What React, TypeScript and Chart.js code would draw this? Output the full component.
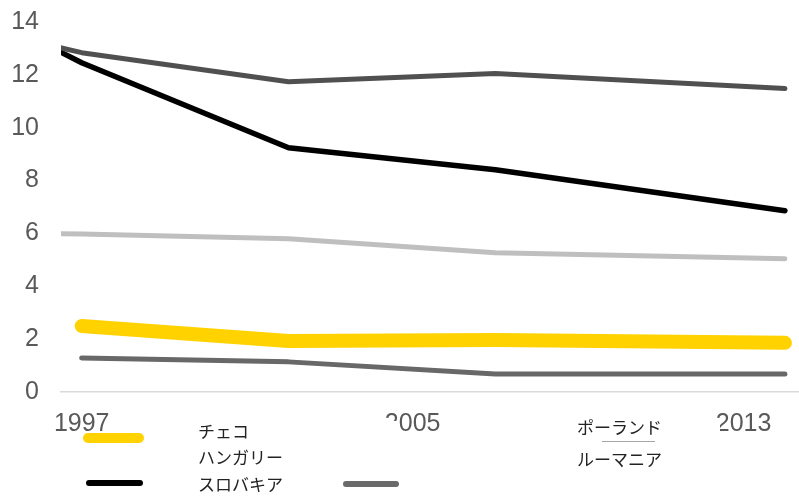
import React, { useEffect, useRef } from "react";
import { Chart, registerables } from "chart.js";

Chart.register(...registerables);

// Data (x = year, y = value)
const yearsLong = [1996, 1997, 2002, 2007, 2014];
const yearsShort = [1997, 2002, 2007, 2014];
const czech = [2.5, 1.93, 1.97, 1.86]; // チェコ (yellow)
const hungary = [6.0, 5.98, 5.8, 5.27, 5.04]; // ハンガリー (light gray)
const slovakia = [13.25, 12.46, 9.24, 8.41, 6.86]; // スロバキア (black)
const poland = [13.2, 12.84, 11.74, 12.05, 11.48]; // ポーランド (dark gray)
const romania = [1.29, 1.14, 0.68, 0.68]; // ルーマニア (mid gray)
const xTickYears = [1997, 2001, 2005, 2009, 2013];
const yTicks = [0, 2, 4, 6, 8, 10, 12, 14];

const pts = (xs: number[], ys: number[]) => xs.map((x, i) => ({ x, y: ys[i] }));

const tickFont = { family: "'Liberation Sans', Arial, sans-serif", size: 25 };
const legendFont = "'Noto Sans CJK JP', sans-serif";

export default function App() {
  const ref = useRef<HTMLCanvasElement | null>(null);

  useEffect(() => {
    if (!ref.current) return;
    const mk = (label: string, xs: number[], ys: number[], color: string, w: number) => ({
      label,
      data: pts(xs, ys),
      borderColor: color,
      backgroundColor: color,
      borderWidth: w,
      borderCapStyle: "round" as const,
      borderJoinStyle: "round" as const,
      pointRadius: 0,
      tension: 0,
      fill: false,
    });
    const chart = new Chart(ref.current, {
      type: "line",
      data: {
        datasets: [
          mk("ハンガリー", yearsLong, hungary, "#BFBFBF", 5),
          mk("ルーマニア", yearsShort, romania, "#686868", 5),
          mk("ポーランド", yearsLong, poland, "#505050", 5),
          mk("スロバキア", yearsLong, slovakia, "#000000", 5.5),
          mk("チェコ", yearsShort, czech, "#FFD200", 14),
        ],
      },
      options: {
        animation: false,
        responsive: true,
        maintainAspectRatio: false,
        layout: { padding: { top: 22, left: 0, right: 0, bottom: 0 } },
        plugins: { legend: { display: false }, tooltip: { enabled: false } },
        scales: {
          x: {
            type: "linear",
            min: 1996.5,
            max: 2014.34,
            grid: { display: false, drawTicks: false },
            border: { display: true, color: "#D9D9D9", width: 1.5 },
            afterBuildTicks: (scale: any) => {
              scale.ticks = xTickYears.map((v) => ({ value: v }));
            },
            afterFit: (scale: any) => {
              scale.height = 104;
              scale.paddingLeft = 0;
              scale.paddingRight = 0;
            },
            ticks: {
              autoSkip: false,
              maxRotation: 0,
              padding: 17,
              color: "#595959",
              font: tickFont,
              callback: (v: any) => String(v),
            },
          },
          y: {
            min: 0,
            max: 14,
            grid: { display: false, drawTicks: false },
            border: { display: false },
            afterBuildTicks: (scale: any) => {
              scale.ticks = yTicks.map((v) => ({ value: v }));
            },
            afterFit: (scale: any) => {
              scale.width = 61;
              scale.paddingTop = 0;
              scale.paddingBottom = 0;
            },
            ticks: {
              padding: 22,
              color: "#595959",
              font: tickFont,
              callback: (v: any) => String(v),
            },
          },
        },
      },
    });
    return () => chart.destroy();
  }, []);

  const sym = (left: number, top: number, width: number, h: number, color: string) => (
    <div
      style={{
        position: "absolute",
        left,
        top: top - h / 2,
        width,
        height: h,
        borderRadius: h / 2,
        background: color,
      }}
    />
  );
  const txt = (left: number, center: number, s: string) => (
    <div
      style={{
        position: "absolute",
        left,
        top: center - 12,
        height: 24,
        lineHeight: "24px",
        fontFamily: legendFont,
        fontSize: 17,
        color: "#222",
        whiteSpace: "nowrap",
      }}
    >
      {s}
    </div>
  );
  const white = (left: number, top: number, width: number, height: number) => (
    <div style={{ position: "absolute", left, top, width, height, background: "#fff" }} />
  );

  return (
    <div style={{ position: "absolute", left: 0, top: 0, width: 799, height: 496, background: "#fff", overflow: "hidden" }}>
      <canvas ref={ref} />
      {white(150, 421, 248, 75)}
      {white(212, 405, 72, 20)}
      {white(540, 421, 180, 75)}
      {white(540, 405, 74, 20)}
      {sym(83, 438, 61, 10, "#FFD200")}
      {sym(86, 483, 57, 6, "#000000")}
      {sym(343, 483.5, 56, 6, "#6A6A6A")}
      {txt(198, 431, "チェコ")}
      {txt(198, 457, "ハンガリー")}
      {txt(198, 484, "スロバキア")}
      {txt(577, 427, "ポーランド")}
      {txt(577, 459, "ルーマニア")}
      <div style={{ position: "absolute", left: 602, top: 441, width: 53, height: 1, background: "#A6A6A6" }} />
    </div>
  );
}
